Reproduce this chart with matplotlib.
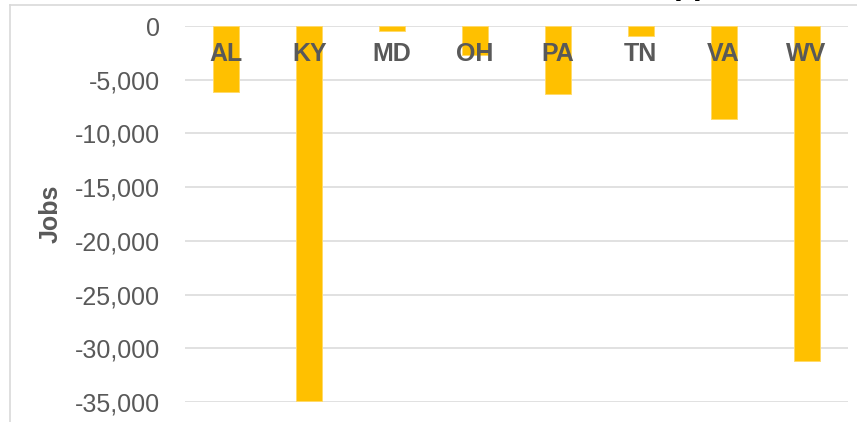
import matplotlib
matplotlib.use("Agg")
import matplotlib.pyplot as plt
from matplotlib.lines import Line2D
from matplotlib.ticker import FuncFormatter
from matplotlib.transforms import blended_transform_factory

states = ["AL", "KY", "MD", "OH", "PA", "TN", "VA", "WV"]
jobs = [-6100, -34950, -500, -2700, -6300, -900, -8700, -31200]
yticks = [0, -5000, -10000, -15000, -20000, -25000, -30000, -35000]

plt.rcParams['font.family'] = ['Liberation Sans', 'DejaVu Sans']

W, H = 857, 422
fig = plt.figure(figsize=(W / 100, H / 100), dpi=100)
ax = fig.add_axes([185 / W, (H - 402) / H, (848 - 185) / W, (402 - 26) / H])

x = list(range(len(states)))
ax.bar(x, jobs, width=0.314, color="#FFC000",
       edgecolor="#FFDA6A", linewidth=0.7, zorder=2)

ax.set_xlim(-0.5, len(states) - 0.5)
ax.set_ylim(min(yticks), max(yticks))
ax.set_yticks(yticks)
ax.yaxis.set_major_formatter(FuncFormatter(lambda v, p: f"{int(v):,}"))
ax.grid(axis="y", color="#D9D9D9", linewidth=1.1, zorder=0)
ax.set_axisbelow(True)
for s in ax.spines.values():
    s.set_visible(False)

ax.tick_params(axis="y", length=0, pad=18, labelsize=18, labelcolor="#595959")
ax.set_xticks([])

# category labels sit just below the zero line, on top of the bars
trans = blended_transform_factory(ax.transData, ax.transAxes)
label_y = 1 - (54 - 26) / (402 - 26)
for xi, st in zip(x, states):
    ax.text(xi, label_y, st, transform=trans, ha="center", va="center",
            fontsize=18, fontweight="bold", color="#595959", zorder=5)

ax.set_ylabel("Jobs", fontsize=18, fontweight="bold", color="#595959", labelpad=9)

# outer chart-area border (left and top edges visible)
fig.add_artist(Line2D([9.5 / W, 9.5 / W], [0, 1 - 4.5 / H], transform=fig.transFigure,
                      color="#D9D9D9", linewidth=1.2))
fig.add_artist(Line2D([9.5 / W, 1], [1 - 4.5 / H, 1 - 4.5 / H], transform=fig.transFigure,
                      color="#D9D9D9", linewidth=1.2))

# title mostly above the visible area (only descenders show)
ty = 1 + 6 / H
fig.text(673.5 / W, ty, "Coal Job Losses in A", ha="right", va="baseline",
         fontsize=23.5, fontweight="bold", color="black")
fig.text(673.5 / W, ty, "ppalachia", ha="left", va="baseline",
         fontsize=23.5, fontweight="bold", color="black")

fig.savefig("out.png", dpi=100)
